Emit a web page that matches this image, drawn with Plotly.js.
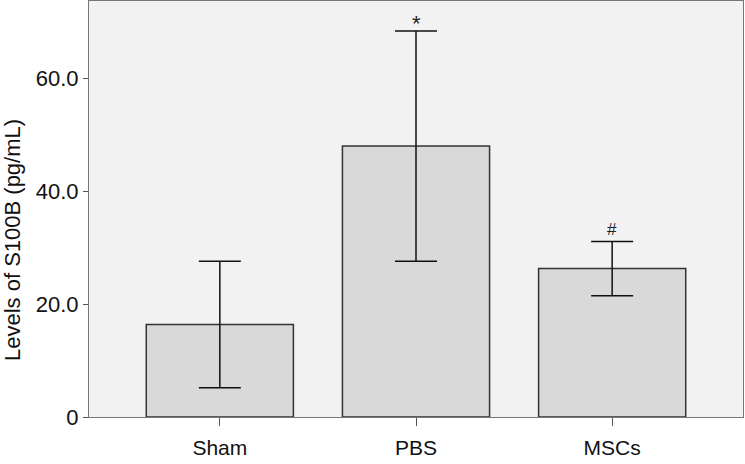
<!DOCTYPE html>
<html>
<head>
<meta charset="utf-8">
<script src="https://cdn.plot.ly/plotly-3.0.1.min.js"></script>
<style>
  html, body { margin: 0; padding: 0; background: #fff; }
  #plot { width: 745px; height: 464px; }
</style>
</head>
<body>
<div id="plot"></div>
<script>
// groups and S100B levels (mean +/- sd)
const groups = ['Sham', 'PBS', 'MSCs'];
const means = [16.4, 48.0, 26.3];
const sd = [11.2, 20.4, 4.8];
const marks = ['', '*', '#'];
const yTicks = [0, 20, 40, 60];
const yTickText = ['0', '20.0', '40.0', '60.0'];

const bars = {
    x: groups,
    y: means,
    type: 'bar',
    marker: { color: '#d9d9d9', line: { color: '#333', width: 1.5 } },
    error_y: { type: 'data', array: sd, visible: true, color: '#111', thickness: 1.5, width: 21 },
    hoverinfo: 'skip'
};

// significance marks above the upper caps
const notes = groups.map((g, i) => ({
    x: g, y: means[i] + sd[i], xref: 'x', yref: 'y',
    text: marks[i], showarrow: false, yanchor: 'bottom',
    yshift: marks[i] === '*' ? -7 : 0,
    font: { size: marks[i] === '*' ? 22 : 17, color: '#222' }
})).filter(a => a.text !== '');

// y title placed like the original (not centered on the axis)
notes.push({
    xref: 'paper', yref: 'paper', x: -0.118, y: 0.425,
    text: 'Levels of S100B (pg/mL)', textangle: -90, showarrow: false,
    xanchor: 'center', yanchor: 'middle',
    font: { size: 22, color: '#111' }
});

const layout = {
    width: 745,
    height: 464,
    margin: { l: 89, r: 2, t: 1, b: 47 },
    paper_bgcolor: '#fff',
    plot_bgcolor: '#f2f2f2',
    font: { family: 'Liberation Sans, Arial, sans-serif', size: 22, color: '#111' },
    bargap: 0.25,
    showlegend: false,
    xaxis: {
        range: [-0.667, 2.667],
        showgrid: false, zeroline: false,
        showline: true, mirror: true, linecolor: '#777', linewidth: 1,
        ticks: 'outside', ticklen: 8, tickcolor: '#555',
        ticklabelstandoff: 4,
        tickfont: { size: 21 }
    },
    yaxis: {
        range: [0, 73.7],
        tickvals: yTicks, ticktext: yTickText,
        showgrid: false, zeroline: false,
        showline: true, mirror: true, linecolor: '#777', linewidth: 1,
        ticks: 'outside', ticklen: 5, tickcolor: '#555',
        ticklabelstandoff: 0,
        tickfont: { size: 22 }
    },
    annotations: notes
};

Plotly.newPlot('plot', [bars], layout, { displayModeBar: false, staticPlot: true });
</script>
</body>
</html>
